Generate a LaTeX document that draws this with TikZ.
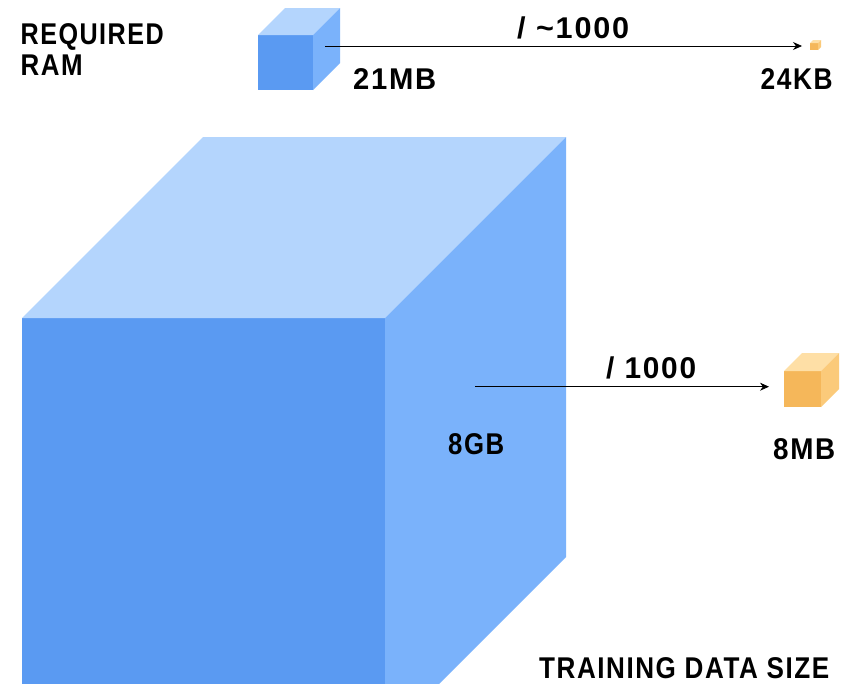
\documentclass[tikz,border=0pt]{standalone}
\usepackage{fontspec}
\usepackage{graphicx}
\setmainfont{Liberation Sans}
\newfontfamily\labelfont[FakeStretch=0.85,LetterSpace=5]{Liberation Sans Bold}
\usetikzlibrary{arrows.meta}

% face colours of the cubes: F = front, T = top, S = side
\definecolor{blueF}{RGB}{90,154,242}
\definecolor{blueT}{RGB}{180,213,253}
\definecolor{blueS}{RGB}{122,178,251}
\definecolor{orangeF}{RGB}{245,183,90}
\definecolor{orangeT}{RGB}{254,223,166}
\definecolor{orangeS}{RGB}{251,202,122}

% #1,#2 front top-left corner; #3 width; #4 height; #5 depth; #6 palette
\newcommand\boxcube[6]{%
  \fill[#6F] (#1,#2) rectangle ++(#3,#4);
  \fill[#6T] (#1,#2) -- ++(#5,-#5) -- ++(#3,0) -- ++(-#5,#5) -- cycle;
  \fill[#6S] (#1+#3,#2) -- ++(#5,-#5) -- ++(0,#4) -- ++(-#5,#5) -- cycle;
}

% set a label to a given width, keeping its height
\newcommand\fitw[2]{\resizebox{#1pt}{\height}{#2}}

\tikzset{
  lbl/.style={font=\labelfont\fontsize{30}{33}\selectfont, text=black,
    inner sep=0pt, text depth=0pt, anchor=base west},
  ratio/.style={-{Stealth[length=9pt,width=8pt]}, line width=0.8pt, black},
}

\begin{document}
\begin{tikzpicture}[x=1pt,y=-1pt]
\path[use as bounding box, clip] (0,0) rectangle (857,683);
\fill[white] (0,0) rectangle (857,683);

% cubes
\boxcube{22}{318}{363}{420}{181}{blue}
\boxcube{258}{35}{55}{55}{27}{blue}
\boxcube{784}{371}{37}{36}{18}{orange}
\boxcube{810}{43}{8}{7}{3}{orange}

% texts
\node[lbl] (req)  at (20.5,44.3)  {\fitw{143}{REQUIRED}};
\node[lbl] (ram)  at (20.5,75.7)  {\fitw{62}{RAM}};
\node[lbl] (mb21) at (353,89.5)   {\fitw{83}{21MB}};
\node[lbl] (kb24) at (760.5,89.3) {\fitw{72}{24KB}};
\node[lbl] (gb8)  at (448,454.3)  {\fitw{56}{8GB}};
\node[lbl] (mb8)  at (773,459.3)  {\fitw{62}{8MB}};
\node[lbl] (tds)  at (539,678)    {\fitw{290}{TRAINING DATA SIZE}};
\node[lbl] (r1)   at (517,38.3)   {\fitw{112}{/ \textasciitilde1000}};
\node[lbl] (r2)   at (606,378.3)  {\fitw{90}{/ 1000}};

% arrows
\coordinate (a1s) at (325,46);
\coordinate (a1e) at (802,46);
\coordinate (a2s) at (475,386.7);
\coordinate (a2e) at (769,386.7);
\draw[ratio] (a1s) -- (a1e);
\draw[ratio] (a2s) -- (a2e);
\end{tikzpicture}
\end{document}
